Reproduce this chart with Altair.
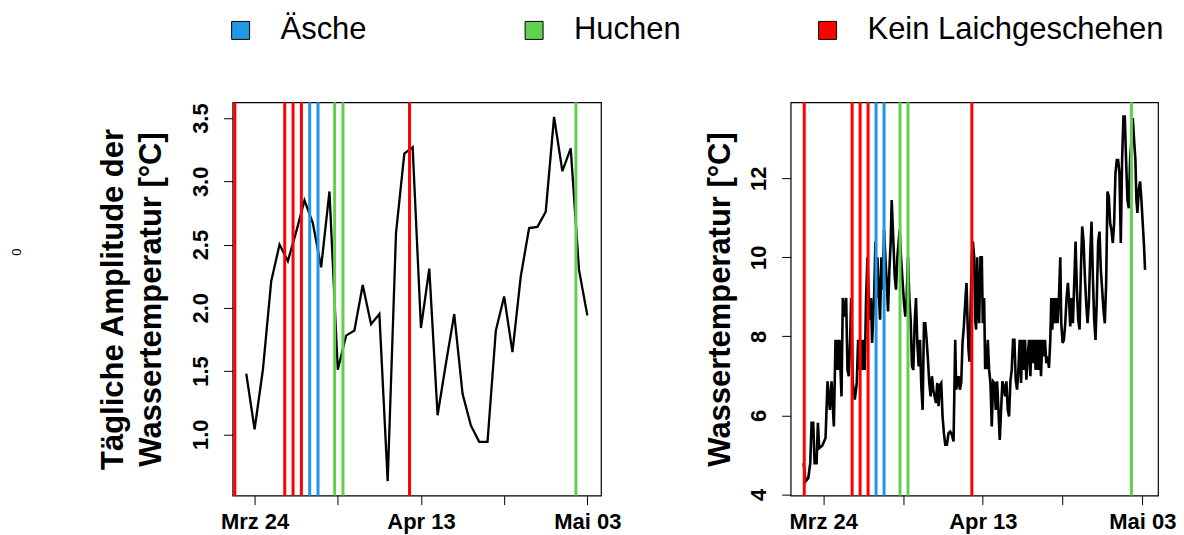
import altair as alt
import pandas as pd

# ---------------- data ----------------
# left panel: daily amplitude of water temperature, one value per day from 23 March
amp_first_day = "2023-03-23"
amp_values = [1.48, 1.04, 1.51, 2.21, 2.50, 2.37, 2.60, 2.85, 2.67, 2.32,
              2.92, 1.51, 1.78, 1.82, 2.18, 1.87, 1.95, 0.63, 2.59, 3.22,
              3.27, 1.84, 2.31, 1.15, 1.56, 1.95, 1.32, 1.07, 0.94, 0.94,
              1.82, 2.09, 1.65, 2.25, 2.63, 2.64, 2.76, 3.51, 3.08, 3.26,
              2.30, 1.94]

# right panel: water temperature, hours counted from 24 March 00:00
temp_origin = "2023-03-24T00:00:00"
temp_hours = [-59, -53, -45, -39, -35, -30, -26, -20, -16, -12,
              -3, 7, 13, 20, 25, 32, 37, 40, 43, 46,
              49, 52, 55, 59, 64, 69, 73, 77, 81, 84,
              89, 95, 101, 105, 109, 113, 117, 121, 125, 129,
              133, 137, 141, 144, 147, 153, 157, 160, 163, 167,
              171, 175, 179, 183, 187, 191, 195, 199, 203, 206,
              211, 215, 219, 223, 227, 230, 234, 239, 243, 247,
              251, 255, 259, 263, 267, 271, 275, 279, 283, 287,
              291, 295, 299, 303, 307, 311, 315, 319, 323, 327,
              331, 335, 339, 343, 347, 351, 355, 359, 363, 367,
              372, 377, 382, 387, 392, 397, 400, 403, 407, 411,
              415, 419, 423, 427, 431, 434, 437, 440, 444, 447,
              450, 454, 457, 460, 463, 466, 469, 473, 477, 480,
              484, 487, 491, 495, 499, 503, 507, 511, 515, 519,
              523, 527, 531, 535, 539, 543, 547, 551, 555, 559,
              563, 567, 571, 575, 579, 583, 587, 591, 595, 599,
              603, 607, 611, 615, 619, 623, 627, 631, 635, 639,
              643, 647, 651, 655, 659, 663, 667, 671, 675, 679,
              683, 686, 689, 693, 697, 701, 705, 709, 713, 716,
              720, 724, 728, 732, 736, 739, 743, 747, 751, 755,
              759, 763, 767, 771, 775, 779, 783, 787, 791, 795,
              799, 803, 807, 811, 815, 819, 823, 827, 831, 835,
              839, 843, 847, 851, 855, 859, 863, 867, 871, 875,
              879, 883, 887, 891, 895, 899, 903, 907, 911, 915,
              919, 923, 927, 931, 935, 939, 942, 945, 949, 953,
              957, 961, 965, 968]
temp_values = [4.79, 4.33, 4.41, 4.79, 5.81, 5.81, 4.79, 4.79, 5.81, 5.17,
               5.23, 5.43, 6.86, 6.14, 6.86, 5.72, 7.91, 7.15, 7.91, 7.15,
               7.91, 7.15, 6.48, 8.97, 8.50, 8.97, 7.15, 6.99, 7.91, 8.97,
               6.82, 6.40, 6.82, 7.91, 7.15, 7.91, 7.15, 7.91, 7.15, 8.97,
               10.00, 8.97, 8.42, 8.97, 7.83, 8.97, 10.40, 8.97, 10.00, 9.18,
               8.42, 10.00, 9.18, 10.69, 10.00, 9.35, 8.63, 9.68, 10.40, 11.45,
               10.40, 9.51, 9.18, 10.00, 10.40, 10.69, 10.00, 9.35, 8.84, 8.50,
               8.97, 10.00, 8.97, 8.42, 7.24, 7.15, 8.33, 8.97, 7.83, 7.24,
               7.91, 6.73, 6.14, 8.33, 8.33, 7.91, 7.41, 6.82, 6.48, 6.99,
               6.65, 6.48, 6.31, 6.82, 6.23, 6.77, 6.82, 5.97, 5.55, 5.26,
               5.26, 5.55, 5.59, 5.51, 5.34, 7.91, 6.65, 6.82, 6.99, 6.65,
               6.82, 7.83, 8.25, 8.84, 9.35, 8.42, 7.66, 7.36, 8.97, 10.00,
               10.40, 10.00, 8.42, 8.17, 10.00, 8.97, 8.33, 10.00, 10.00, 8.33,
               8.97, 7.20, 7.20, 7.91, 7.15, 6.82, 5.72, 6.86, 6.82, 6.14,
               6.86, 6.14, 5.38, 6.14, 6.86, 6.73, 6.48, 6.86, 6.14, 5.97,
               6.86, 7.15, 7.91, 7.91, 6.90, 6.65, 7.15, 7.91, 6.82, 7.91,
               7.15, 7.91, 6.90, 7.49, 7.91, 6.99, 7.91, 7.32, 7.91, 7.15,
               7.91, 7.15, 7.91, 6.99, 7.91, 7.49, 7.91, 7.32, 7.49, 7.20,
               7.91, 8.97, 8.17, 8.97, 8.33, 8.97, 8.33, 8.97, 10.00, 8.33,
               7.83, 7.91, 8.33, 8.97, 9.35, 8.97, 8.25, 8.97, 8.33, 9.35,
               10.40, 9.18, 8.42, 8.17, 9.68, 10.78, 10.40, 9.51, 8.84, 8.33,
               8.84, 10.02, 10.90, 9.51, 8.42, 7.91, 8.97, 10.40, 10.65, 9.68,
               9.18, 8.67, 8.33, 9.35, 11.66, 11.54, 10.86, 10.69, 10.36, 10.86,
               12.13, 12.46, 12.46, 12.13, 10.36, 12.46, 13.56, 13.56, 12.46, 11.45,
               11.24, 12.46, 12.97, 13.52, 12.97, 12.46, 11.45, 11.12, 11.71, 11.92,
               11.45, 10.86, 10.27, 9.68]

# spawning observations (vertical lines)
event_times = ["2023-03-21T15:00:00", "2023-03-27T15:00:00", "2023-03-28T15:00:00",
               "2023-03-29T15:00:00", "2023-03-30T15:00:00", "2023-03-31T15:00:00",
               "2023-04-02T15:00:00", "2023-04-03T15:00:00", "2023-04-11T15:00:00",
               "2023-05-01T15:00:00"]
event_kinds = ["Kein Laichgeschehen", "Kein Laichgeschehen", "Kein Laichgeschehen",
               "Kein Laichgeschehen", "Äsche", "Äsche", "Huchen", "Huchen",
               "Kein Laichgeschehen", "Huchen"]

legend_names = ["Äsche", "Huchen", "Kein Laichgeschehen"]
legend_colors = ["#2297E6", "#61D04F", "#FF0000"]

tick_dates = ["2023-03-24", "2023-04-03", "2023-04-13", "2023-04-23", "2023-05-03"]
shown_tick_labels = ["Mrz 24", "Apr 13", "Mai 03"]
month_abbr = ["Jan", "Feb", "Mrz", "Apr", "Mai", "Jun", "Jul", "Aug", "Sep", "Okt", "Nov", "Dez"]

amp_ticks = [1.0, 1.5, 2.0, 2.5, 3.0, 3.5]
temp_ticks = [4, 6, 8, 10, 12]

left_title = ["Tägliche Amplitude der", "Wassertemperatur [°C]"]
right_title = "Wassertemperatur [°C]"
stray_label = "0"

# ---------------- frames ----------------
fmt = "%Y-%m-%dT%H:%M:%S"
amp_df = pd.DataFrame({
    "t": pd.date_range(amp_first_day, periods=len(amp_values), freq="D").strftime(fmt),
    "v": amp_values,
})
temp_df = pd.DataFrame({
    "t": (pd.Timestamp(temp_origin) + pd.to_timedelta(temp_hours, unit="h")).strftime(fmt),
    "v": temp_values,
})
ev_df = pd.DataFrame({"t": event_times, "kind": event_kinds})
leg_df = pd.DataFrame({"idx": list(range(len(legend_names))), "name": legend_names})


def dt(ts):
    ts = pd.Timestamp(ts)
    return alt.DateTime(year=ts.year, month=ts.month, date=ts.day,
                        hours=ts.hour, minutes=ts.minute)


FONT = "Liberation Sans"
TICK_FS = 22
color_scale = alt.Scale(domain=legend_names, range=legend_colors)

months_js = "[" + ",".join("'%s'" % m for m in month_abbr) + "]"
shown_js = "[" + ",".join("'%s'" % s for s in shown_tick_labels) + "]"
lab = months_js + "[month(datum.value)] + ' ' + timeFormat(datum.value, '%d')"
label_expr = "indexof(%s, %s) >= 0 ? %s : ''" % (shown_js, lab, lab)

x_axis = alt.Axis(values=[dt(d) for d in tick_dates], labelExpr=label_expr,
                  tickSize=9, tickColor="black", tickWidth=1, labelPadding=7,
                  labelFont=FONT, labelFontSize=TICK_FS, labelFontWeight="bold",
                  labelColor="black", labelFlush=False, labelOverlap=False,
                  domain=False, grid=False, title=None)


def y_axis(values, fmt_str, title, title_x):
    return alt.Axis(values=values, format=fmt_str, labelAngle=270, labelAlign="center",
                    labelBaseline="bottom", tickSize=9, tickColor="black", tickWidth=1,
                    labelPadding=11, labelFont=FONT, labelFontSize=TICK_FS,
                    labelFontWeight="bold", labelColor="black", domain=False, grid=False,
                    title=title, titleFont=FONT, titleFontSize=31, titleFontWeight="bold",
                    titleColor="black", titleAngle=270, titleAlign="center",
                    titleBaseline="bottom", titleLineHeight=38, titleX=title_x, titleY=197)


W_L, W_R, H = 369, 368, 394
panel_view = alt.ViewBackground(stroke="black", strokeWidth=1.2)

left_x = alt.Scale(domain=[dt("2023-03-21T08:38"), dt("2023-05-04T15:22")])
right_x = alt.Scale(domain=[dt("2023-03-19T22:05"), dt("2023-05-04T23:02")])

left_line = alt.Chart(amp_df).mark_line(color="black", strokeWidth=2.3).encode(
    x=alt.X("t:T", scale=left_x, axis=x_axis),
    y=alt.Y("v:Q", scale=alt.Scale(domain=[0.515, 3.625], nice=False, zero=False),
            axis=y_axis(amp_ticks, ".1f", left_title, -103)),
)
left_rules = alt.Chart(ev_df).mark_rule(strokeWidth=3).encode(
    x=alt.X("t:T", scale=left_x, axis=x_axis),
    color=alt.Color("kind:N", scale=color_scale, legend=None),
)
stray = alt.Chart(pd.DataFrame({"s": [stray_label]})).mark_text(
    font=FONT, fontSize=13, angle=270, color="black"
).encode(text="s:N", x=alt.value(-216), y=alt.value(150))

left = alt.layer(left_line, left_rules, stray).properties(width=W_L, height=H, view=panel_view)

right_line = alt.Chart(temp_df).mark_line(color="black", strokeWidth=2.6).encode(
    x=alt.X("t:T", scale=right_x, axis=x_axis),
    y=alt.Y("v:Q", scale=alt.Scale(domain=[3.97, 13.92], nice=False, zero=False),
            axis=y_axis(temp_ticks, "d", right_title, -54)),
)
right_rules = alt.Chart(ev_df).mark_rule(strokeWidth=3).encode(
    x=alt.X("t:T", scale=right_x, axis=x_axis),
    color=alt.Color("kind:N", scale=color_scale, legend=None),
)
right = alt.layer(right_line, right_rules).properties(width=W_R, height=H, view=panel_view)

leg_x = alt.X("idx:Q", scale=alt.Scale(domain=[0, 2], range=[8, 596]), axis=None)
leg_sq = alt.Chart(leg_df).mark_square(size=324, stroke="black", strokeWidth=1, opacity=1).encode(
    x=leg_x, y=alt.value(20),
    color=alt.Color("name:N", scale=color_scale, legend=None),
)
leg_tx = alt.Chart(leg_df).mark_text(align="left", baseline="middle", dx=40, font=FONT,
                                     fontSize=31, color="black").encode(
    x=leg_x, y=alt.value(20), text="name:N",
)
legend = alt.layer(leg_sq, leg_tx).properties(
    width=600, height=40, view=alt.ViewBackground(strokeOpacity=0))

row = alt.hconcat(left, right, spacing=190, bounds="flush")
chart = alt.vconcat(legend, row, spacing=52, bounds="flush").properties(
    autosize=alt.AutoSizeParams(type="none"),
    padding={"left": 225, "top": 2, "right": 945, "bottom": 525},
).configure(background="white")

chart.save("out.html", embed_options={"renderer": "svg", "actions": False})
